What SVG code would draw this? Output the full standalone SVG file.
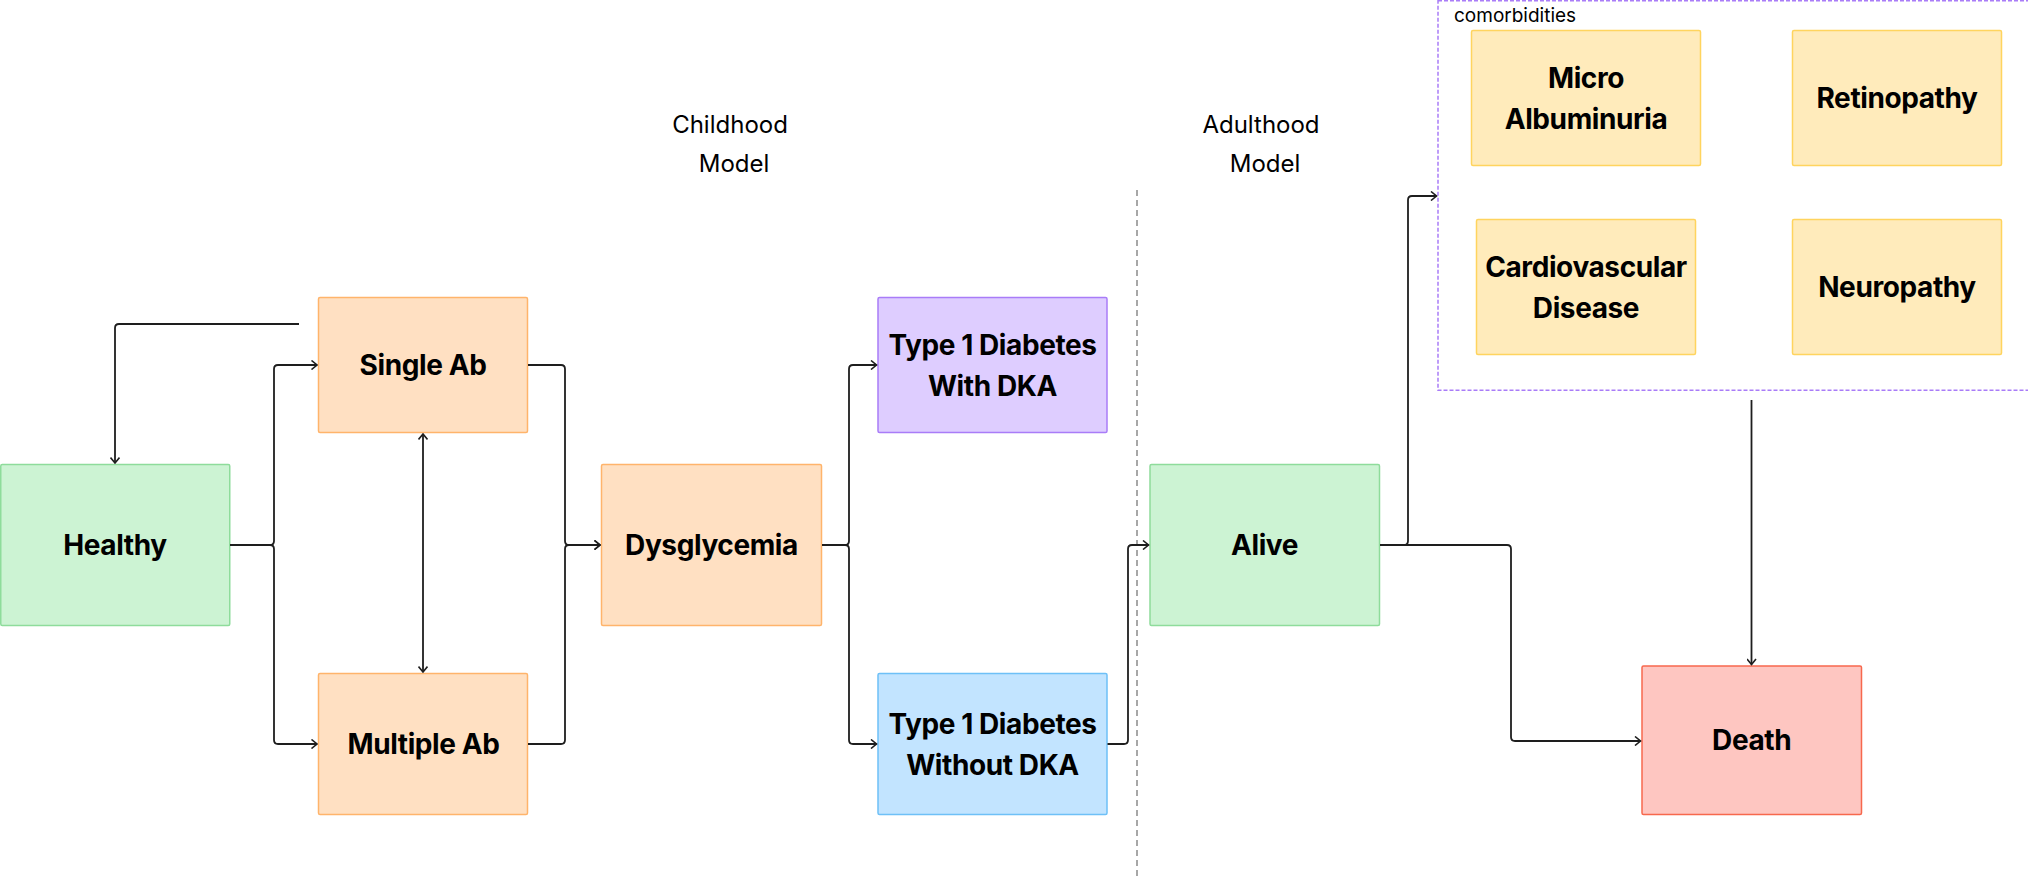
<svg xmlns="http://www.w3.org/2000/svg" width="2028" height="878" viewBox="0 0 2028 878">
<style>
.n{stroke-width:1.5}
.green{fill:#CCF3D3;stroke:#8EDC9B}
.orange{fill:#FFE0C2;stroke:#FFB46B}
.purple{fill:#DECDFF;stroke:#A97CF8}
.blue{fill:#C2E4FF;stroke:#6EC0F7}
.yellow{fill:#FFEBBB;stroke:#FFD45E}
.red{fill:#FEC6C1;stroke:#F7684D}
.t{font-family:Inter,"Liberation Sans",sans-serif;font-weight:700;font-size:28px;fill:#000;text-anchor:middle;letter-spacing:-0.4px}
.lbl{font-family:Inter,"Liberation Sans",sans-serif;font-weight:400;font-size:24px;fill:#000;text-anchor:middle}
.c{fill:none;stroke:#1e1e1e;stroke-width:1.8;stroke-linejoin:round}
</style>
<defs>
<marker id="ah" viewBox="0 0 10 10" refX="9" refY="5" markerWidth="10" markerHeight="10" markerUnits="userSpaceOnUse" orient="auto-start-reverse">
<path d="M3.5,0.5 L9,5 L3.5,9.5" fill="none" stroke="#1e1e1e" stroke-width="1.6"/>
</marker>
</defs>

<g id="labels">
<text class="lbl" x="730" y="133">Childhood</text>
<text class="lbl" x="734" y="172">Model</text>
<text class="lbl" x="1261" y="133">Adulthood</text>
<text class="lbl" x="1265" y="172">Model</text>
</g>

<line x1="1137" y1="190" x2="1137" y2="878" stroke="#8a8a8a" stroke-width="1.5" stroke-dasharray="6 4"/>

<g id="comorbidities">
<rect x="1438" y="0.8" width="1589" height="389.5" fill="none" stroke="#A97CF8" stroke-width="1.5" stroke-dasharray="4 2" transform="translate(0,0)"/>
<text x="1454" y="22" font-family="Inter,'Liberation Sans',sans-serif" font-size="19" fill="#000">comorbidities</text>
</g>

<g id="micro"><rect class="n yellow" x="1471.5" y="30.5" width="229" height="135" rx="1.5"/><text class="t" x="1586" y="87.5">Micro</text><text class="t" x="1586" y="128.5">Albuminuria</text></g>
<g id="retinopathy"><rect class="n yellow" x="1792.5" y="30.5" width="209" height="135" rx="1.5"/><text class="t" x="1897" y="108">Retinopathy</text></g>
<g id="cardio"><rect class="n yellow" x="1476.5" y="219.5" width="219" height="135" rx="1.5"/><text class="t" x="1586" y="276.7">Cardiovascular</text><text class="t" x="1586" y="317.7">Disease</text></g>
<g id="neuropathy"><rect class="n yellow" x="1792.5" y="219.5" width="209" height="135" rx="1.5"/><text class="t" x="1897" y="297">Neuropathy</text></g>

<g id="healthy"><rect class="n green" x="0.75" y="464.5" width="229" height="161" rx="1.5"/><text class="t" x="115" y="555">Healthy</text></g>
<g id="single"><rect class="n orange" x="318.5" y="297.5" width="209" height="135" rx="1.5"/><text class="t" x="423" y="375">Single Ab</text></g>
<g id="multiple"><rect class="n orange" x="318.5" y="673.5" width="209" height="141" rx="1.5"/><text class="t" x="423.5" y="754">Multiple Ab</text></g>
<g id="dysglycemia"><rect class="n orange" x="601.5" y="464.5" width="220" height="161" rx="1.5"/><text class="t" x="711.5" y="555">Dysglycemia</text></g>
<g id="t1d_dka"><rect class="n purple" x="878" y="297.5" width="229" height="135" rx="1.5"/><text class="t" x="992.5" y="355">Type 1 Diabetes</text><text class="t" x="992.5" y="396">With DKA</text></g>
<g id="t1d_nodka"><rect class="n blue" x="878" y="673.5" width="229" height="141" rx="1.5"/><text class="t" x="992.5" y="733.7">Type 1 Diabetes</text><text class="t" x="992.5" y="774.7">Without DKA</text></g>
<g id="alive"><rect class="n green" x="1150" y="464.5" width="229.5" height="161" rx="1.5"/><text class="t" x="1264.5" y="555">Alive</text></g>
<g id="death"><rect class="n red" x="1642" y="666" width="219.5" height="148.5" rx="1.5"/><text class="t" x="1751.7" y="750">Death</text></g>

<g id="connectors">
<path class="c" d="M299,324 H119 Q115,324 115,328 V463" marker-end="url(#ah)"/>
<path class="c" d="M230,545 H270 Q274,545 274,541 V369 Q274,365 278,365 H317" marker-end="url(#ah)"/>
<path class="c" d="M230,545 H270 Q274,545 274,549 V740 Q274,744 278,744 H317" marker-end="url(#ah)"/>
<path class="c" d="M423,434 V672" marker-start="url(#ah)" marker-end="url(#ah)"/>
<path class="c" d="M528,365 H561 Q565,365 565,369 V541 Q565,545 569,545 H600" marker-end="url(#ah)"/>
<path class="c" d="M528,744 H561 Q565,744 565,740 V549 Q565,545 569,545 H600" marker-end="url(#ah)"/>
<path class="c" d="M822,545 H845 Q849,545 849,541 V369 Q849,365 853,365 H876.5" marker-end="url(#ah)"/>
<path class="c" d="M822,545 H845 Q849,545 849,549 V740 Q849,744 853,744 H876.5" marker-end="url(#ah)"/>
<path class="c" d="M1107.5,744 H1124 Q1128,744 1128,740 V549 Q1128,545 1132,545 H1148.5" marker-end="url(#ah)"/>
<path class="c" d="M1380,545 H1404 Q1408,545 1408,541 V200 Q1408,196 1412,196 H1436.5" marker-end="url(#ah)"/>
<path class="c" d="M1380,545 H1507 Q1511,545 1511,549 V737 Q1511,741 1515,741 H1640.5" marker-end="url(#ah)"/>
<path class="c" d="M1751.5,400 V664.5" marker-end="url(#ah)"/>
</g>
</svg>
